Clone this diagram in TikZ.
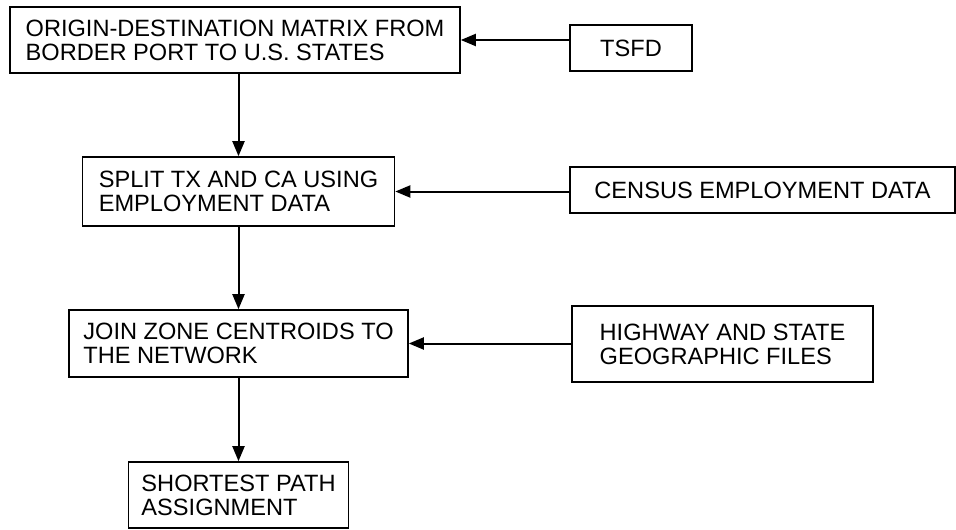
\documentclass[tikz,border=0pt]{standalone}
\usepackage{fontspec}
\setmainfont{Liberation Sans}
\usetikzlibrary{arrows.meta}

\begin{document}
\begin{tikzpicture}[
  x=0.5pt, y=-0.5pt,
  font=\fontsize{11.8}{12}\selectfont,
  proc/.style={draw=black, line width=0.8pt, align=left, inner sep=0pt},
  src/.style={proc, align=center},
  arr/.style={-{Triangle[length=7.5pt, width=6pt]}, line width=1pt}
]
\useasboundingbox (0,0) rectangle (956,529);
% ----- main chain (top -> bottom) -----
\node[proc, minimum width=225pt, minimum height=33pt]   (od)    at (235,40)
  {ORIGIN-DESTINATION MATRIX FROM\\BORDER PORT TO U.S. STATES};
\node[proc, minimum width=156pt, minimum height=34.5pt] (split) at (238.5,191.5)
  {SPLIT TX AND CA USING\\EMPLOYMENT DATA};
\node[proc, minimum width=169.5pt, minimum height=33.5pt] (join) at (238.5,343.5)
  {JOIN ZONE CENTROIDS TO\\THE NETWORK};
\node[proc, minimum width=110pt, minimum height=33pt]   (spa)   at (238.5,495)
  {SHORTEST PATH\\ASSIGNMENT};
\draw[arr] (od.south -| split.north) -- (split.north);
\foreach \a/\b in {split/join, join/spa}{\draw[arr] (\a) -- (\b);}
% ----- input data, right column -----
\node[src, minimum width=61pt, minimum height=23pt]     (tsfd)   at (631,48)    {TSFD};
\node[src, minimum width=192.5pt, minimum height=23pt]  (census) at (762.5,190) {CENSUS EMPLOYMENT DATA};
\node[proc, minimum width=150.5pt, minimum height=38pt] (hwy)    at (722.5,344)
  {HIGHWAY AND STATE\\GEOGRAPHIC FILES};
% ----- feeds -----
\draw[arr] (tsfd.west |- od.east) -- (od.east);
\draw[arr] (census.west |- split.east) -- (split.east);
\draw[arr] (hwy.west |- join.east) -- (join.east);
\end{tikzpicture}
\end{document}
